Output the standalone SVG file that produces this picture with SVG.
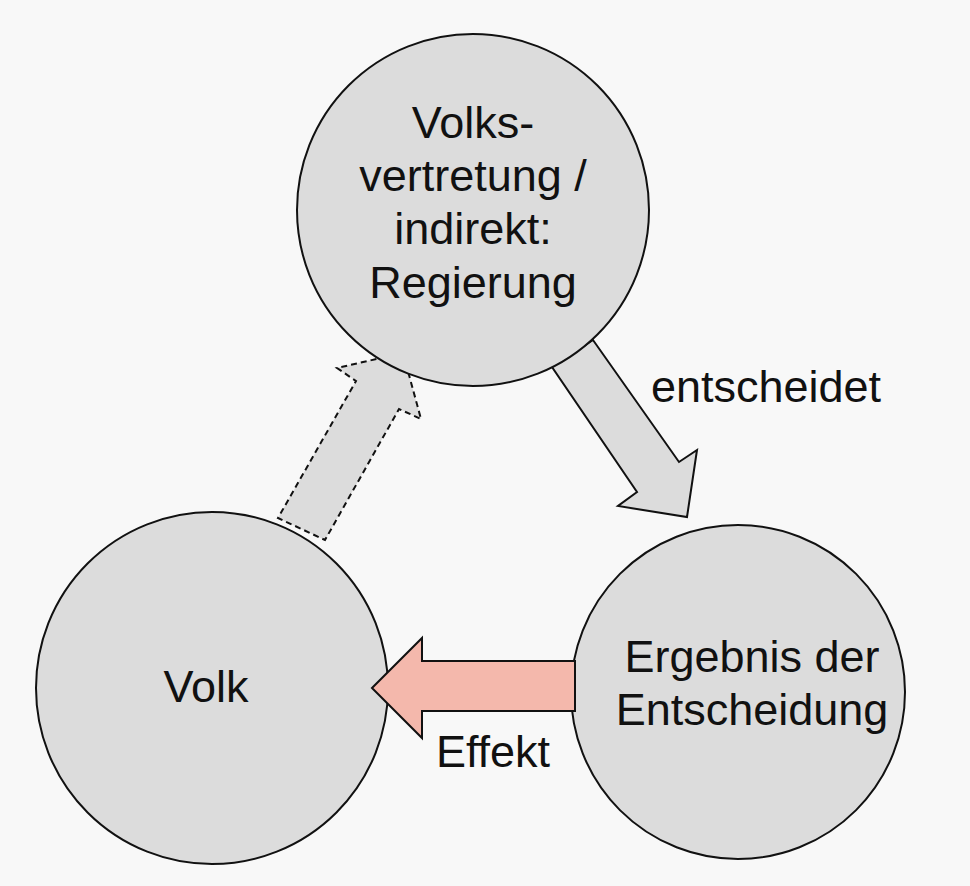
<svg xmlns="http://www.w3.org/2000/svg" width="970" height="886" viewBox="0 0 970 886">
<style>
text{font-family:"Liberation Sans",Arial,sans-serif;font-size:45px;fill:#111;text-anchor:middle}
.c{fill:#dcdcdc;stroke:#111;stroke-width:2}
.a{fill:#dcdcdc;stroke:#111;stroke-width:2}
</style>
<rect width="970" height="886" fill="#f8f8f8"/>
<g id="connectors">
<polygon class="a" stroke-dasharray="6,4" points="403,353 421,419 399,409 325,540 278,518 356,381 337,368"/>
<polygon class="a" points="552,367 593,340 679,462 697,450 687,517 618,506 637,492"/>
</g>
<g id="top"><circle class="c" cx="473" cy="210" r="176"/>
<text x="473" y="138">Volks-</text><text x="473" y="191">vertretung /</text><text x="473" y="244">indirekt:</text><text x="473" y="298">Regierung</text></g>
<g id="volk"><circle class="c" cx="212" cy="688" r="176"/><text x="206" y="702">Volk</text></g>
<g id="ergebnis"><circle class="c" cx="738" cy="692" r="167"/><text x="752" y="672">Ergebnis der</text><text x="752" y="725">Entscheidung</text></g>
<g id="effekt-arrow"><polygon fill="#f4b8ac" stroke="#111" stroke-width="2" points="372,688 422,638 422,661 575,661 575,711 422,711 422,738"/></g>
<text x="766" y="402">entscheidet</text>
<text x="493" y="767">Effekt</text>
</svg>
